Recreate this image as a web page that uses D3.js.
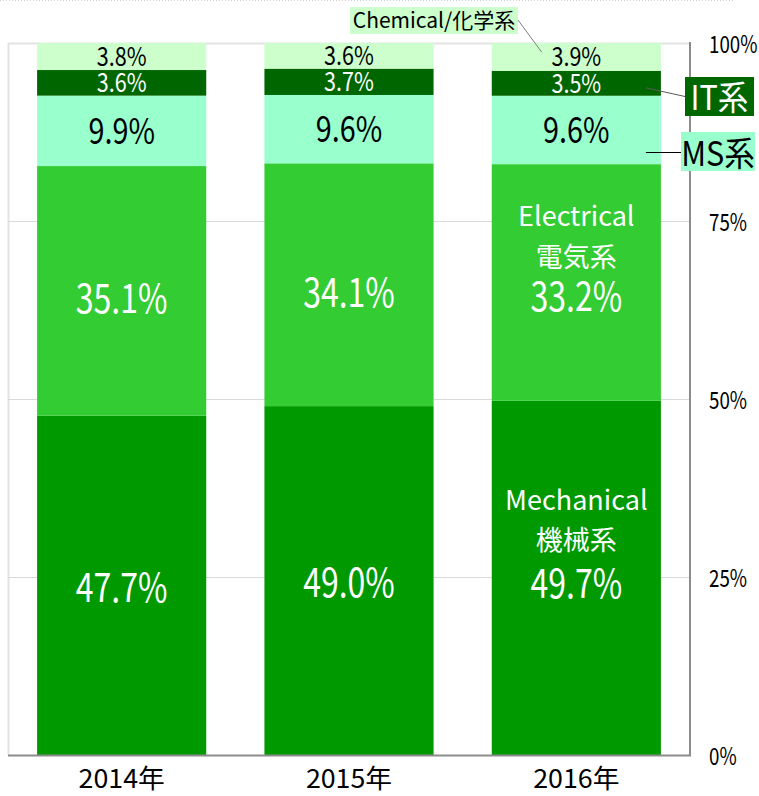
<!DOCTYPE html>
<html>
<head>
<meta charset="utf-8">
<script src="https://cdn.jsdelivr.net/npm/d3@7"></script>
<style>
  html, body { margin: 0; padding: 0; background: #fff; }
  svg { display: block; font-family: "Noto Sans CJK JP", "Noto Sans", sans-serif; }
</style>
</head>
<body>
<svg id="chart" width="759" height="796"></svg>
<script>
// ---- data ----
const years = ["2014年", "2015年", "2016年"];
const seriesKeys = ["mechanical", "electrical", "ms", "it", "chemical"];
const mechanical = [47.7, 49.0, 49.7];
const electrical = [35.1, 34.1, 33.2];
const ms = [9.9, 9.6, 9.6];
const it = [3.6, 3.7, 3.5];
const chemical = [3.8, 3.6, 3.9];
const tickValues = [0, 0.25, 0.5, 0.75, 1];
const calloutLabels = { chemical: "Chemical/化学系", it: "IT系", ms: "MS系" };
const inBarNames = { mechanical: ["Mechanical", "機械系"], electrical: ["Electrical", "電気系"] };

// ---- styles ----
const colors = { mechanical: "#009900", electrical: "#33CC33", ms: "#99FFCC", it: "#006600", chemical: "#CCFFCC" };
const textColors = { mechanical: "#fff", electrical: "#fff", ms: "#000", it: "#fff", chemical: "#000" };
const labelSize = { mechanical: 40, electrical: 40, ms: 36, it: 26, chemical: 26 };
const labelSX = { mechanical: 0.8, electrical: 0.8, ms: 0.8, it: 0.83, chemical: 0.83 };
const labelShift = { mechanical: 2, electrical: 8, ms: 0, it: 0, chemical: 0 };
const SX = 0.8;

const valuesBy = { mechanical, electrical, ms, it, chemical };
const table = years.map((yr, i) => {
  const row = { year: yr };
  seriesKeys.forEach(k => row[k] = valuesBy[k][i]);
  return row;
});

const svg = d3.select("#chart");
const pLeft = 8, pRight = 690, pTop = 43, pBottom = 755;

const x = d3.scaleBand().domain(years).range([pLeft, pRight]).paddingInner(0.256).paddingOuter(0.128);
const y = d3.scaleLinear().domain([0, 1]).range([pBottom, pTop]);

const stacked = d3.stack().keys(seriesKeys).offset(d3.stackOffsetExpand)(table);

// page dotted line at very top
svg.append("line").attr("x1", 0).attr("x2", 733).attr("y1", 0.5).attr("y2", 0.5)
  .attr("stroke", "#cfcfcf").attr("stroke-dasharray", "1,2");

// plot border (light) and gridlines
svg.append("line").attr("x1", pLeft).attr("x2", pRight).attr("y1", pTop + 0.5).attr("y2", pTop + 0.5)
  .attr("stroke", "#e3e3e3").attr("stroke-width", 2);
svg.append("line").attr("x1", pLeft + 0.5).attr("x2", pLeft + 0.5).attr("y1", pTop).attr("y2", pBottom)
  .attr("stroke", "#e3e3e3").attr("stroke-width", 2);
svg.append("g").selectAll("line").data(tickValues.filter(t => t > 0 && t < 1)).join("line")
  .attr("x1", pLeft).attr("x2", pRight)
  .attr("y1", d => Math.round(y(d)) + 0.5).attr("y2", d => Math.round(y(d)) + 0.5)
  .attr("stroke", "#d9d9d9");

// bars
const layers = svg.append("g").selectAll("g").data(stacked).join("g")
  .attr("fill", d => colors[d.key]);
layers.selectAll("rect").data(d => d.map(v => ({ v, key: d.key }))).join("rect")
  .attr("x", d => x(d.v.data.year))
  .attr("width", x.bandwidth())
  .attr("y", d => y(d.v[1]))
  .attr("height", d => y(d.v[0]) - y(d.v[1]));

// axes lines (right and bottom)
svg.append("line").attr("x1", pRight).attr("x2", pRight).attr("y1", pTop - 1).attr("y2", pBottom + 1)
  .attr("stroke", "#8c8c8c").attr("stroke-width", 2);
svg.append("line").attr("x1", pLeft).attr("x2", pRight + 1).attr("y1", pBottom + 0.5).attr("y2", pBottom + 0.5)
  .attr("stroke", "#8c8c8c").attr("stroke-width", 2);

// helper: condensed text centered at (cx, cy)
function ctext(g, str, cx, cy, fs, sx, fill, anchor) {
  return g.append("text")
    .attr("transform", `translate(${cx},${cy + fs * 0.365}) scale(${sx},1)`)
    .attr("text-anchor", anchor || "middle")
    .attr("font-size", fs)
    .attr("fill", fill)
    .text(str);
}

// value labels
const fmt = d3.format(".1f");
const lblG = svg.append("g");
stacked.forEach(layer => {
  layer.forEach((v, i) => {
    const key = layer.key;
    const cx = x(v.data.year) + x.bandwidth() / 2;
    const cy = (y(v[0]) + y(v[1])) / 2;
    const txt = fmt(valuesBy[key][i]) + "%";
    const isLast = i === years.length - 1;
    if (isLast && key === "electrical") {
      ctext(lblG, inBarNames.electrical[0], cx, cy - 66, 27, 1, "#fff");
      ctext(lblG, inBarNames.electrical[1], cx, cy - 25, 27, 1, "#fff");
      ctext(lblG, txt, cx, cy + 14, 40, SX, "#fff");
    } else if (isLast && key === "mechanical") {
      ctext(lblG, inBarNames.mechanical[0], cx, cy - 78, 27, 1, "#fff");
      ctext(lblG, inBarNames.mechanical[1], cx, cy - 38, 27, 1, "#fff");
      ctext(lblG, txt, cx, cy + 6, 40, SX, "#fff");
    } else {
      ctext(lblG, txt, cx, cy + labelShift[key], labelSize[key], labelSX[key], textColors[key]);
    }
  });
});

// right axis tick labels
const tickG = svg.append("g");
tickValues.forEach(t => {
  ctext(tickG, d3.format(".0%")(t), 709, y(t) + 1, 24, 0.78, "#000", "start");
});

// year labels
const yearG = svg.append("g");
years.forEach(yr => {
  ctext(yearG, yr, x(yr) + x.bandwidth() / 2, 778.5, 26, 1.03, "#000");
});

// callouts for small series (2016 bar)
const lastYear = years[years.length - 1];
const barRight = x(lastYear) + x.bandwidth();
const callG = svg.append("g");

// Chemical
callG.append("line").attr("x1", 518).attr("y1", 20).attr("x2", x(lastYear) + 50).attr("y2", y(0.987))
  .attr("stroke", "#7f7f7f").attr("stroke-width", 1);
callG.append("rect").attr("x", 350).attr("y", 7).attr("width", 168).attr("height", 27).attr("fill", colors.chemical);
ctext(callG, calloutLabels.chemical, 434, 20.5, 21, 1, "#000");

// IT
callG.append("line").attr("x1", barRight - 15).attr("y1", y(0.937)).attr("x2", 685).attr("y2", 96.5)
  .attr("stroke", "#595959").attr("stroke-width", 1);
callG.append("rect").attr("x", 685).attr("y", 77).attr("width", 69).attr("height", 39).attr("fill", colors.it);
ctext(callG, calloutLabels.it, 719.5, 98, 34, 0.9, "#fff");

// MS
callG.append("line").attr("x1", barRight - 15).attr("y1", Math.round(y(0.847)) + 0.5).attr("x2", 681).attr("y2", Math.round(y(0.847)) + 0.5)
  .attr("stroke", "#000").attr("stroke-width", 1);
callG.append("rect").attr("x", 681).attr("y", 132).attr("width", 74).attr("height", 39).attr("fill", colors.ms);
ctext(callG, calloutLabels.ms, 718, 153.5, 34, 0.9, "#000");
</script>
</body>
</html>
